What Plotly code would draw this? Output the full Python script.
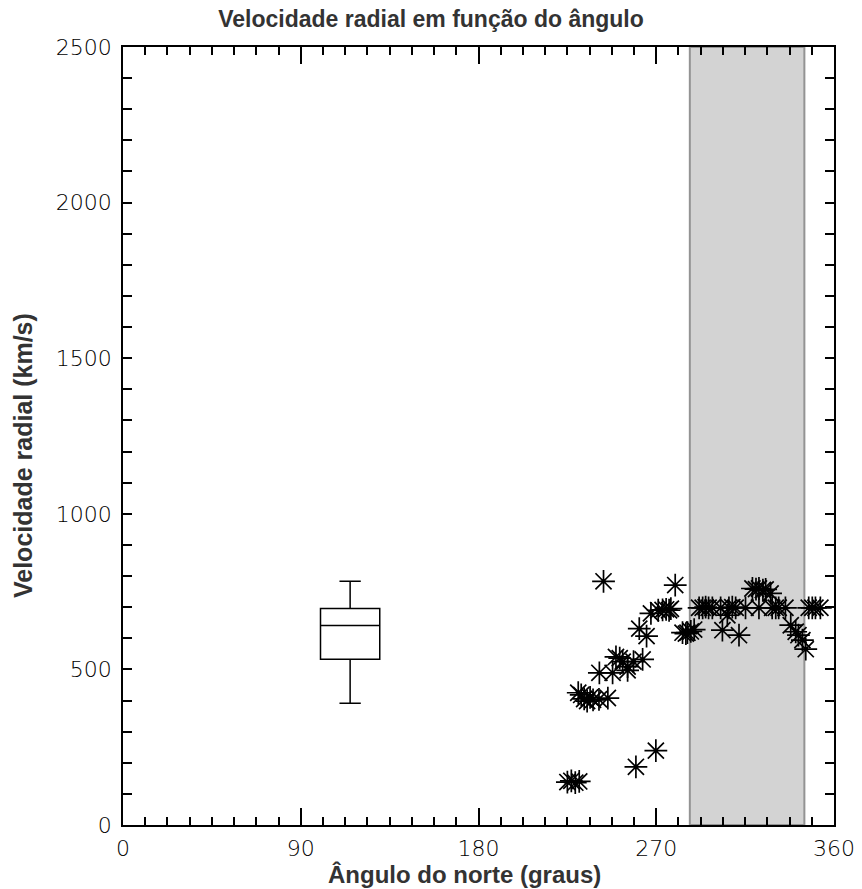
import plotly.graph_objects as go

# Scatter data (angle in degrees, radial velocity km/s)
angles = [225, 227, 229, 231,
          259.7, 269.8, 243.3, 279.6,
          230.5, 232, 233.5, 235, 236.5, 238, 241, 245.5,
          241.2, 247.9, 255.5,
          249.6, 251.5, 253, 255.5, 258.5, 263.1,
          261.4, 265.1,
          267.3, 271, 273.2, 275, 276.5, 277.4,
          283.3, 285, 285.8, 287.5, 289.2,
          291.7, 293.5, 295, 296.5, 298.4, 302.6, 306.8, 308.5, 310.2, 315.2,
          322, 328.7, 330.5, 332, 335.4, 347.2, 349, 350.6, 353.1,
          303.5, 311.9, 306,
          318.7, 320.5, 322, 324, 325.4, 327.9,
          338.1, 340.6, 342, 344, 345.7]
velocities = [138, 142, 136, 140,
              187, 239, 783, 771,
              425, 418, 405, 398, 410, 402, 404, 408,
              489, 489, 497,
              540, 536, 525, 509, 525, 532,
              631, 607,
              680, 690, 691, 693, 690, 695,
              618, 615, 618, 622, 628,
              698, 698, 700, 698, 698, 698, 698, 700, 698, 698,
              698, 698, 698, 698, 698, 698, 698, 698, 698,
              626, 610, 674,
              760, 758, 760, 755, 757, 744,
              642, 621, 610, 594, 565]

# Box-plot summary statistics
box_x = [115]
box_low = [391]
box_q1 = [533]
box_median = [641]
box_q3 = [696]
box_high = [783]

# Shaded angular band
band = [287, 345]

x_ticks = [0, 90, 180, 270, 360]
y_ticks = [0, 500, 1000, 1500, 2000, 2500]

fig = go.Figure()

fig.add_trace(go.Box(
    x=box_x, q1=box_q1, median=box_median, q3=box_q3,
    lowerfence=box_low, upperfence=box_high,
    width=30, whiskerwidth=0.36,
    line=dict(color="black", width=1.5), fillcolor="white",
    boxpoints=False, showlegend=False, hoverinfo="skip"))

fig.add_trace(go.Scatter(
    x=angles, y=velocities, mode="markers",
    marker=dict(symbol="asterisk-open", size=19, color="black",
                line=dict(color="black", width=1.7)),
    showlegend=False))

fig.add_shape(type="rect", xref="x", yref="paper",
              x0=band[0], x1=band[1], y0=0, y1=1,
              fillcolor="#d3d3d3", line=dict(color="#939393", width=2),
              layer="below")

tickfont = dict(family="DejaVu Sans", size=22, color="#000", weight=200)
titlefont = dict(family="Liberation Sans", size=25, color="#333", weight="bold")

fig.update_layout(
    width=862, height=889,
    margin=dict(l=123, r=28, t=47, b=64, autoexpand=False),
    paper_bgcolor="white", plot_bgcolor="white",
    title=dict(text="Velocidade radial em função do ângulo",
               x=0.5, xanchor="center", y=0.979, yanchor="middle",
               automargin=False,
               font=dict(family="Liberation Sans", size=23, color="#333", weight="bold")),
    xaxis=dict(range=[0, 360], tickvals=x_ticks, ticks="inside", ticklen=17,
               tickwidth=1.5, tickcolor="black", ticklabelstandoff=3,
               automargin=False,
               minor=dict(dtick=11.25, tick0=0, ticks="inside", ticklen=8,
                          tickwidth=1.5, tickcolor="black"),
               showline=True, linecolor="black", linewidth=1.5,
               mirror="allticks", showgrid=False, zeroline=False,
               tickfont=tickfont),
    yaxis=dict(range=[0, 2500], tickvals=y_ticks, ticks="inside", ticklen=9,
               tickwidth=1.5, tickcolor="black", ticklabelstandoff=5,
               automargin=False,
               minor=dict(dtick=100, tick0=0, ticks="inside", ticklen=9,
                          tickwidth=1.5, tickcolor="black"),
               showline=True, linecolor="black", linewidth=1.5,
               mirror="allticks", showgrid=False, zeroline=False,
               tickfont=tickfont),
    annotations=[
        dict(text="Ângulo do norte (graus)", xref="paper", yref="paper",
             x=0.480, y=-0.063, xanchor="center", yanchor="middle",
             showarrow=False, font=dict(family="Liberation Sans", size=24,
                                        color="#333", weight="bold")),
        dict(text="Velocidade radial (km/s)", xref="paper", yref="paper",
             x=-0.1406, y=0.4743, xanchor="center", yanchor="middle",
             textangle=-90, showarrow=False, font=titlefont),
    ],
)

fig.write_html("out.html")
